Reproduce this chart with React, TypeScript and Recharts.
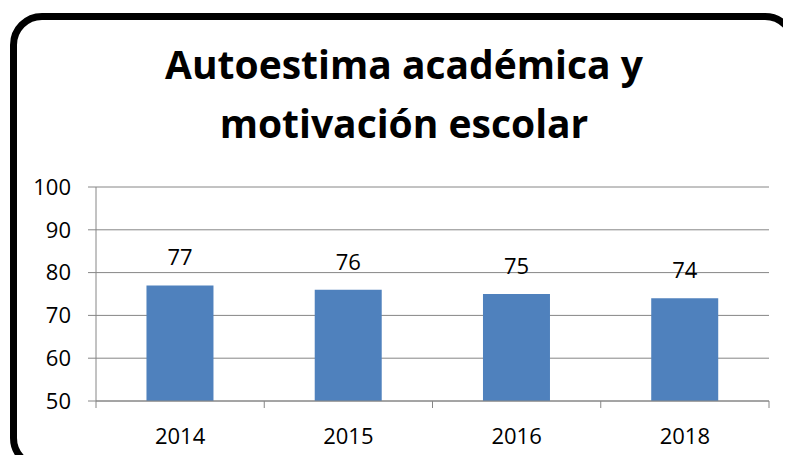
import React from 'react';
import { BarChart, Bar, XAxis, YAxis, CartesianGrid, LabelList } from 'recharts';

const years = ['2014', '2015', '2016', '2018'];
const scores = [77, 76, 75, 74];
const yTicks = [50, 60, 70, 80, 90, 100];

const data = years.map((year, i) => ({ year, score: scores[i] }));

const AXIS = '#868686';
const FONT = '"Open Sans", sans-serif';

// year label centred in the band, tick marks on band boundaries
const YearTick = (props: any) => {
  const { x, y, payload, index, visibleTicksCount } = props;
  const half = payload?.offset ?? 84;
  const isLast = index === (visibleTicksCount ?? years.length) - 1;
  return (
    <g>
      <line x1={x - half} y1={y} x2={x - half} y2={y + 7} stroke={AXIS} />
      {isLast && <line x1={x + half} y1={y} x2={x + half} y2={y + 7} stroke={AXIS} />}
      <text x={x} y={y + 43} textAnchor="middle" fontFamily={FONT} fontSize={22} fill="#000">
        {payload.value}
      </text>
    </g>
  );
};

const App: React.FC = () => {
  return (
    <div style={{ position: 'relative', width: 791, height: 463, margin: -8, overflow: 'hidden', background: '#fff' }}>
      <div
        style={{
          position: 'absolute',
          left: 10,
          top: 13,
          width: 787,
          height: 457,
          border: '7px solid #000',
          borderRadius: 32,
          boxSizing: 'border-box',
        }}
      />
      <div
        style={{
          position: 'absolute',
          left: 0,
          top: 34,
          width: 808,
          textAlign: 'center',
          fontFamily: FONT,
          fontWeight: 700,
          fontSize: 39,
          lineHeight: '59px',
          color: '#000',
        }}
      >
        Autoestima académica y<br />motivación escolar
      </div>
      <div style={{ position: 'absolute', left: 0, top: 0 }}>
        <BarChart
          width={791}
          height={463}
          data={data}
          margin={{ top: 187, right: 22, bottom: 2, left: 0 }}
          barCategoryGap="30%"
        >
          <CartesianGrid vertical={false} stroke={AXIS} strokeWidth={1} />
          <YAxis
            width={96}
            domain={[50, 100]}
            ticks={yTicks}
            interval={0}
            axisLine={{ stroke: AXIS }}
            tickLine={{ stroke: AXIS }}
            tickSize={8}
            tickMargin={17}
            tick={{ fontFamily: FONT, fontSize: 22, fill: '#000' }}
          />
          <XAxis
            dataKey="year"
            height={60}
            interval={0}
            axisLine={{ stroke: AXIS }}
            tickLine={false}
            tickSize={0}
            tickMargin={0}
            tick={<YearTick />}
          />
          <Bar dataKey="score" fill="#4F81BD" isAnimationActive={false}>
            <LabelList dataKey="score" position="top" offset={20} fontFamily={FONT} fontSize={22} fill="#000" />
          </Bar>
        </BarChart>
      </div>
    </div>
  );
};

export default App;
